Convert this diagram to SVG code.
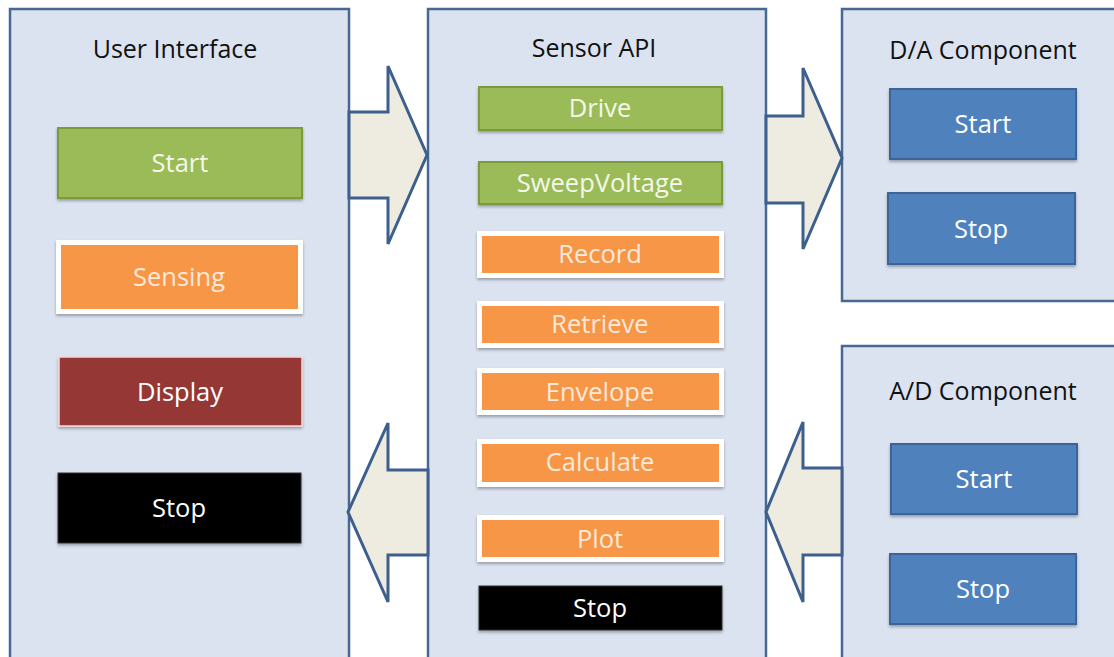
<svg xmlns="http://www.w3.org/2000/svg" width="1114" height="657" viewBox="0 0 1114 657">
<defs>
<filter id="sh" x="-5%" y="-10%" width="110%" height="130%">
<feDropShadow dx="0" dy="2" stdDeviation="1.5" flood-color="#000" flood-opacity="0.3"/>
</filter>
</defs>
<style>
.panel{fill:#dbe3f0;stroke:#466893;stroke-width:2.5}
.title{font-family:"Open Sans","Noto Sans",sans-serif;font-size:25px;fill:#111;text-anchor:middle}
.lbl{font-family:"Open Sans","Noto Sans",sans-serif;font-size:25.5px;text-anchor:middle}
.green{fill:#9bbb59;stroke:#7a9a3e;stroke-width:2;filter:url(#sh)}
.orange{fill:#f79646;stroke:#ffffff;stroke-width:5;filter:url(#sh)}
.red{fill:#953735;stroke:#f2dcdb;stroke-width:1.5;filter:url(#sh)}
.black{fill:#000;stroke:#333;stroke-width:1;filter:url(#sh)}
.blue{fill:#4f81bd;stroke:#3a6599;stroke-width:2;filter:url(#sh)}
.tg{fill:#f3f8ea}
.to{fill:#fde9d9}
.tw{fill:#ffffff}
.arrow{fill:#eeece1;stroke:#3d5f8d;stroke-width:3;stroke-linejoin:miter}
</style>
<rect width="1114" height="657" fill="#ffffff"/>

<g id="ui-panel">
<rect class="panel" x="10" y="9" width="339" height="660"/>
<text class="title" x="175" y="58">User Interface</text>
</g>
<g id="api-panel">
<rect class="panel" x="428" y="9" width="338" height="660"/>
<text class="title" x="594" y="57">Sensor API</text>
</g>
<g id="da-panel">
<rect class="panel" x="842" y="9" width="290" height="292"/>
<text class="title" x="983" y="59">D/A Component</text>
</g>
<g id="ad-panel">
<rect class="panel" x="842" y="346" width="290" height="330"/>
<text class="title" x="983" y="400">A/D Component</text>
</g>

<g id="connectors">
<polygon class="arrow" points="349,112 388,112 388,66 427,155 388,244 388,198 349,198"/>
<polygon class="arrow" points="428,470 388,470 388,423 348,512 388,602 388,555 428,555"/>
<polygon class="arrow" points="766,116 803,116 803,68 842,158 803,249 803,203 766,203"/>
<polygon class="arrow" points="842,468 803,468 803,422 766,512 803,602 803,555 842,555"/>
</g>

<g id="ui-start"><rect class="green" x="58" y="128" width="244" height="70"/><text class="lbl tg" x="180" y="172">Start</text></g>
<g id="ui-sensing"><rect class="orange" x="58.5" y="242.5" width="242" height="69"/><text class="lbl to" x="179" y="286">Sensing</text></g>
<g id="ui-display"><rect class="red" x="59" y="357" width="243" height="69"/><text class="lbl tw" x="180" y="401">Display</text></g>
<g id="ui-stop"><rect class="black" x="58" y="473" width="243" height="70"/><text class="lbl tw" x="179" y="517">Stop</text></g>

<g id="api-drive"><rect class="green" x="479" y="87" width="243" height="43"/><text class="lbl tg" x="600" y="117">Drive</text></g>
<g id="api-sweep"><rect class="green" x="479" y="162" width="243" height="42"/><text class="lbl tg" x="600" y="192">SweepVoltage</text></g>
<g id="api-record"><rect class="orange" x="479.5" y="233.5" width="242" height="42"/><text class="lbl to" x="600" y="263">Record</text></g>
<g id="api-retrieve"><rect class="orange" x="479.5" y="303.5" width="242" height="42"/><text class="lbl to" x="600" y="333">Retrieve</text></g>
<g id="api-envelope"><rect class="orange" x="479.5" y="370.5" width="242" height="42"/><text class="lbl to" x="600" y="401">Envelope</text></g>
<g id="api-calculate"><rect class="orange" x="479.5" y="441.5" width="242" height="43"/><text class="lbl to" x="600" y="471">Calculate</text></g>
<g id="api-plot"><rect class="orange" x="479.5" y="517.5" width="242" height="42"/><text class="lbl to" x="600" y="548">Plot</text></g>
<g id="api-stop"><rect class="black" x="479" y="586" width="243" height="44"/><text class="lbl tw" x="600" y="617">Stop</text></g>

<g id="da-start"><rect class="blue" x="890" y="89" width="186" height="70"/><text class="lbl tw" x="983" y="133">Start</text></g>
<g id="da-stop"><rect class="blue" x="888" y="193" width="187" height="71"/><text class="lbl tw" x="981" y="238">Stop</text></g>
<g id="ad-start"><rect class="blue" x="891" y="444" width="186" height="70"/><text class="lbl tw" x="984" y="488">Start</text></g>
<g id="ad-stop"><rect class="blue" x="890" y="554" width="186" height="70"/><text class="lbl tw" x="983" y="598">Stop</text></g>
</svg>
